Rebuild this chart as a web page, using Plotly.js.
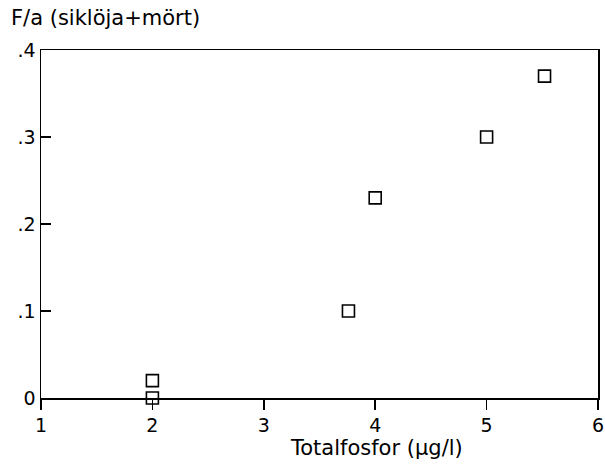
<!DOCTYPE html>
<html>
<head>
<meta charset="utf-8">
<script src="https://cdn.plot.ly/plotly-3.0.1.min.js"></script>
<style>html,body{margin:0;padding:0;background:#fff;}#chart{width:605px;height:464px;}</style>
</head>
<body>
<div id="chart"></div>
<script>
const phosphorus = [2, 2, 3.76, 4, 5, 5.52];
const ratio = [0.0, 0.02, 0.1, 0.23, 0.3, 0.37];
const xTickVals = [1, 2, 3, 4, 5, 6];
const xTickText = ["1", "2", "3", "4", "5", "6"];
const yTickVals = [0, 0.1, 0.2, 0.3, 0.4];
const yTickText = ["0", ".1", ".2", ".3", ".4"];
const yTitle = "F/a (siklöja+mört)";
const xTitle = "Totalfosfor (µg/l)";

const font = {family: "DejaVu Sans, sans-serif", size: 19, color: "#000"};
const titleFont = {family: "DejaVu Sans, sans-serif", size: 21, color: "#000"};

Plotly.newPlot("chart", [{
  x: phosphorus, y: ratio, type: "scatter", mode: "markers",
  marker: {symbol: "square-open", size: 12, color: "#000", line: {width: 1.6, color: "#000"}},
  cliponaxis: false, hoverinfo: "none"
}], {
  width: 605, height: 464,
  margin: {l: 41, r: 7, t: 50, b: 66},
  paper_bgcolor: "#fff", plot_bgcolor: "#fff",
  showlegend: false,
  font: font,
  xaxis: {
    range: [1, 6], tickvals: xTickVals, ticktext: xTickText,
    ticks: "outside", ticklen: 10, tickwidth: 1.5, tickcolor: "#000",
    showline: true, linecolor: "#000", linewidth: 1.5, mirror: true,
    showgrid: false, zeroline: false, tickfont: font
  },
  yaxis: {
    range: [0, 0.4], tickvals: yTickVals, ticktext: yTickText,
    ticks: "inside", ticklen: 10, tickwidth: 1.5, tickcolor: "#000",
    showline: true, linecolor: "#000", linewidth: 1.5, mirror: true,
    showgrid: false, zeroline: false, tickfont: font
  },
  annotations: [
    {text: yTitle, xref: "paper", yref: "paper", x: -0.057, y: 1.0, yshift: 32,
     xanchor: "left", yanchor: "middle", showarrow: false, font: titleFont},
    {text: xTitle, xref: "paper", yref: "paper", x: 0.603, y: 0, yshift: -50,
     xanchor: "center", yanchor: "middle", showarrow: false, font: titleFont}
  ]
}, {staticPlot: true});
</script>
</body>
</html>
